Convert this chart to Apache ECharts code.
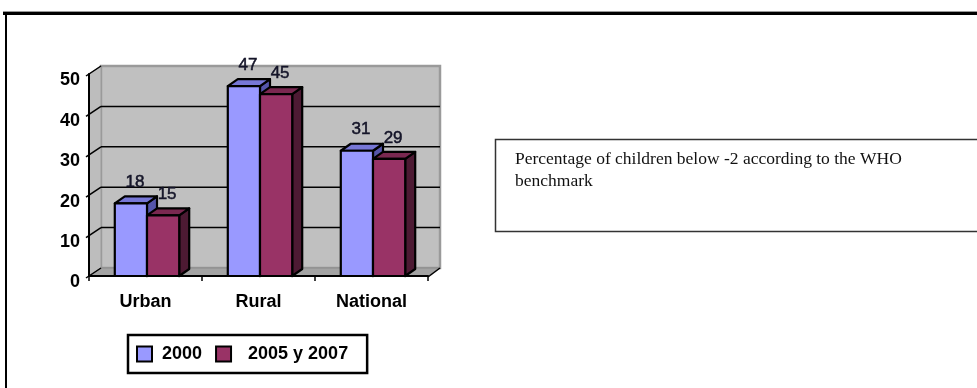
<!DOCTYPE html>
<html>
<head>
<meta charset="utf-8">
<script src="https://cdn.jsdelivr.net/npm/echarts@6/dist/echarts.min.js"></script>
<style>
  html, body { margin: 0; padding: 0; background: #fff; }
  #chart { width: 977px; height: 388px; }
</style>
</head>
<body>
<div id="chart"></div>
<script>
// Chart data
const categories = ['Urban', 'Rural', 'National'];
const seriesNames = ['2000', '2005 y 2007'];
const values2000 = [18, 47, 31];
const values2005 = [15, 45, 29];
const yTicks = [0, 10, 20, 30, 40, 50];
const noteText = 'Percentage of children below -2 according to the WHO\nbenchmark';

// 3D look: depth of the walls and of the columns (screen px)
const WALL_DX = 12, WALL_DY = -8;
const BAR_DX = 10, BAR_DY = -7;
const BAR_FRAC = 0.285;

const SANS = '"Liberation Sans", Arial, sans-serif';
const SERIF = '"Liberation Serif", "Times New Roman", serif';

const faceColors = [
  { front: '#9999ff', top: '#7777d6', side: '#5555aa' },
  { front: '#993366', top: '#7a2850', side: '#4d1a33' }
];

// Walls, floor and gridlines of the plot box
function renderFrame(params, api) {
  const cs = params.coordSys;
  const x0 = cs.x, x1 = cs.x + cs.width;
  const yBase = api.coord([0, 0])[1];
  const yTop = api.coord([0, yTicks[yTicks.length - 1]])[1];
  const children = [];
  // back wall
  children.push({
    type: 'rect',
    shape: { x: x0 + WALL_DX, y: yTop + WALL_DY, width: cs.width, height: yBase - yTop },
    style: { fill: '#c0c0c0', stroke: '#9a9a9a', lineWidth: 2.5 }
  });
  // left wall
  children.push({
    type: 'polygon',
    shape: { points: [[x0, yTop], [x0 + WALL_DX, yTop + WALL_DY], [x0 + WALL_DX, yBase + WALL_DY], [x0, yBase]] },
    style: { fill: '#bdbdbd', stroke: '#9a9a9a', lineWidth: 1 }
  });
  // floor
  children.push({
    type: 'polygon',
    shape: { points: [[x0, yBase], [x0 + WALL_DX, yBase + WALL_DY], [x1 + WALL_DX, yBase + WALL_DY], [x1, yBase]] },
    style: { fill: '#a3a3a3', stroke: '#8c8c8c', lineWidth: 1 }
  });
  yTicks.forEach(function (t) {
    const y = api.coord([0, t])[1];
    if (t > 0 && t < yTicks[yTicks.length - 1]) {
      // gridline on the back wall
      children.push({
        type: 'line',
        shape: { x1: x0 + WALL_DX, y1: y + WALL_DY, x2: x1 + WALL_DX, y2: y + WALL_DY },
        style: { stroke: '#000', lineWidth: 1.5 }
      });
    }
    // gridline across the left wall, continuing out as a tick
    children.push({
      type: 'line',
      shape: { x1: x0 - 3, y1: y + 2, x2: x0 + WALL_DX, y2: y + WALL_DY },
      style: { stroke: '#000', lineWidth: 1.5 }
    });
  });
  // right edge of the floor
  children.push({
    type: 'line',
    shape: { x1: x1, y1: yBase + 1, x2: x1 + WALL_DX, y2: yBase + WALL_DY },
    style: { stroke: '#000', lineWidth: 1.5 }
  });
  return { type: 'group', children: children };
}

// 3D columns: front face, top face, side face and value label
function makeBarRenderer(seriesIdx) {
  const c = faceColors[seriesIdx];
  return function (params, api) {
    const idx = api.value(0), v = api.value(1);
    const base = api.coord([idx, 0]);
    const top = api.coord([idx, v]);
    const band = api.size([1, 0])[0];
    const bw = band * BAR_FRAC;
    const cx = base[0] + 1.5;
    const xL = seriesIdx === 0 ? cx - bw : cx;
    const xR = xL + bw;
    const yT = top[1], yB = base[1];
    const stroke = { stroke: '#000', lineWidth: 2.2, lineJoin: 'round' };
    return {
      type: 'group',
      children: [
        {
          type: 'polygon',
          shape: { points: [[xR, yT], [xR + BAR_DX, yT + BAR_DY], [xR + BAR_DX, yB + BAR_DY], [xR, yB]] },
          style: Object.assign({ fill: c.side }, stroke)
        },
        {
          type: 'polygon',
          shape: { points: [[xL, yT], [xL + BAR_DX, yT + BAR_DY], [xR + BAR_DX, yT + BAR_DY], [xR, yT]] },
          style: Object.assign({ fill: c.top }, stroke)
        },
        {
          type: 'rect',
          shape: { x: xL, y: yT, width: bw, height: yB - yT },
          style: Object.assign({ fill: c.front }, stroke)
        },
        {
          type: 'text',
          z2: 50,
          style: {
            text: String(v),
            x: (xL + xR) / 2 + BAR_DX / 2 - 1,
            y: yT + BAR_DY - 14,
            align: 'center',
            verticalAlign: 'middle',
            font: '17px ' + SANS,
            fill: '#141428',
            stroke: '#141428',
            lineWidth: 0.5
          }
        }
      ]
    };
  };
}

const chart = echarts.init(document.getElementById('chart'), null, { renderer: 'canvas' });

chart.setOption({
  animation: false,
  backgroundColor: '#fff',
  grid: { left: 89, top: 74, width: 339, height: 202 },
  xAxis: {
    type: 'category',
    data: categories,
    z: 10,
    axisLine: { lineStyle: { color: '#000', width: 2 } },
    axisTick: { show: true, length: 5, lineStyle: { color: '#000', width: 1.5 } },
    axisLabel: {
      margin: 17,
      color: '#000',
      fontWeight: 'bold',
      fontSize: 18,
      fontFamily: SANS
    },
    splitLine: { show: false }
  },
  yAxis: {
    type: 'value',
    min: 0,
    max: 50,
    interval: 10,
    z: 10,
    axisLine: { show: true, lineStyle: { color: '#000', width: 2 } },
    axisTick: { show: false },
    axisLabel: {
      margin: 9,
      verticalAlign: 'top',
      lineHeight: 13,
      color: '#000',
      fontWeight: 'bold',
      fontSize: 18,
      fontFamily: SANS
    },
    splitLine: { show: false }
  },
  legend: {
    data: seriesNames,
    left: 128,
    top: 335,
    orient: 'horizontal',
    icon: 'rect',
    itemWidth: 15,
    itemHeight: 15,
    itemGap: 13,
    padding: [10, 19, 10, 8],
    borderColor: '#000',
    borderWidth: 2.5,
    selectedMode: false,
    formatter: function (name) {
      return name === seriesNames[0] ? '{a|' + name + '}' : '{b|' + name + '}';
    },
    textStyle: {
      color: '#000',
      fontWeight: 'bold',
      fontSize: 18,
      fontFamily: SANS,
      rich: {
        a: { fontWeight: 'bold', fontSize: 18, fontFamily: SANS, padding: [0, 0, 0, 5] },
        b: { fontWeight: 'bold', fontSize: 18, fontFamily: SANS, padding: [0, 0, 0, 12] }
      }
    }
  },
  graphic: [
    // page frame
    { type: 'rect', shape: { x: 3, y: 11, width: 980, height: 1 }, style: { fill: '#999' }, silent: true },
    { type: 'rect', shape: { x: 3, y: 12, width: 980, height: 3 }, style: { fill: '#000' }, silent: true },
    { type: 'rect', shape: { x: 5, y: 12, width: 2, height: 380 }, style: { fill: '#000' }, silent: true },
    // note box
    {
      type: 'rect',
      shape: { x: 495.5, y: 139.5, width: 500, height: 92 },
      style: { fill: '#fff', stroke: '#333', lineWidth: 1.5 },
      silent: true
    },
    {
      type: 'text',
      left: 515,
      top: 148,
      style: {
        text: noteText,
        font: '17.5px ' + SERIF,
        lineHeight: 22,
        fill: '#111'
      },
      silent: true
    }
  ],
  series: [
    {
      name: 'frame',
      type: 'custom',
      z: 1,
      silent: true,
      renderItem: renderFrame,
      data: [[0, 0]],
      encode: { x: 0, y: 1 }
    },
    {
      name: seriesNames[0],
      type: 'custom',
      z: 3,
      itemStyle: { color: faceColors[0].front, borderColor: '#000', borderWidth: 2 },
      renderItem: makeBarRenderer(0),
      data: values2000.map(function (v, i) { return [i, v]; }),
      encode: { x: 0, y: 1 }
    },
    {
      name: seriesNames[1],
      type: 'custom',
      z: 4,
      itemStyle: { color: faceColors[1].front, borderColor: '#000', borderWidth: 2 },
      renderItem: makeBarRenderer(1),
      data: values2005.map(function (v, i) { return [i, v]; }),
      encode: { x: 0, y: 1 }
    }
  ]
});
</script>
</body>
</html>
